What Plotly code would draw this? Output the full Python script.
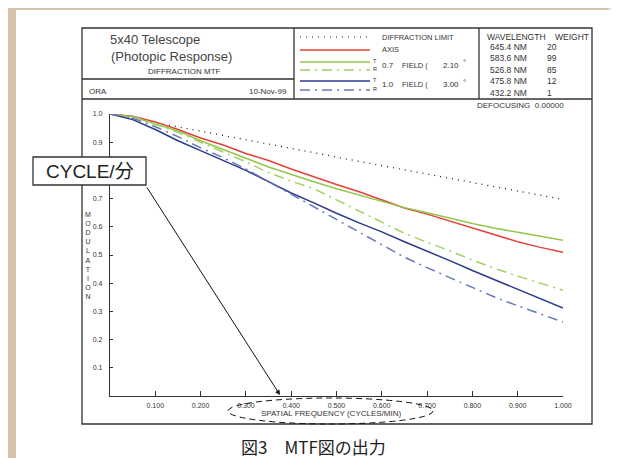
import plotly.graph_objects as go

# ---------------- data ----------------
freq = [0.00, 0.05, 0.10, 0.15, 0.20, 0.25, 0.30, 0.35, 0.40, 0.45, 0.50,
        0.55, 0.60, 0.65, 0.70, 0.75, 0.80, 0.85, 0.90, 0.95, 1.00]

diffraction_limit = [1.000, 0.985, 0.969, 0.954, 0.939, 0.923, 0.908, 0.893, 0.878, 0.863, 0.847,
                     0.832, 0.817, 0.802, 0.787, 0.772, 0.757, 0.742, 0.727, 0.712, 0.697]
axis_mtf = [1.000, 0.992, 0.972, 0.945, 0.915, 0.890, 0.860, 0.835, 0.805, 0.777, 0.750,
            0.724, 0.695, 0.667, 0.645, 0.620, 0.595, 0.570, 0.547, 0.527, 0.510]
field07_t = [1.000, 0.990, 0.965, 0.940, 0.905, 0.875, 0.843, 0.812, 0.785, 0.760, 0.735,
             0.712, 0.690, 0.668, 0.650, 0.630, 0.612, 0.595, 0.580, 0.565, 0.552]
field07_r = [1.000, 0.990, 0.963, 0.935, 0.900, 0.865, 0.830, 0.792, 0.762, 0.735, 0.695,
             0.655, 0.615, 0.577, 0.545, 0.515, 0.482, 0.452, 0.425, 0.400, 0.375]
field10_t = [1.000, 0.980, 0.945, 0.905, 0.870, 0.835, 0.800, 0.760, 0.720, 0.685, 0.648,
             0.614, 0.582, 0.547, 0.514, 0.480, 0.445, 0.412, 0.380, 0.345, 0.312]
field10_r = [1.000, 0.985, 0.955, 0.920, 0.880, 0.845, 0.805, 0.760, 0.715, 0.672, 0.628,
             0.582, 0.535, 0.492, 0.455, 0.420, 0.385, 0.350, 0.320, 0.290, 0.262]

x_tick_vals = [0.1, 0.2, 0.3, 0.4, 0.5, 0.6, 0.7, 0.8, 0.9, 1.0]
x_tick_text = ["0.100", "0.200", "0.300", "0.400", "0.500", "0.600", "0.700", "0.800", "0.900", "1.000"]
y_tick_vals = [0.1, 0.2, 0.3, 0.4, 0.5, 0.6, 0.7, 0.8, 0.9, 1.0]
# 0.8 is hidden behind the callout box in the reference
y_tick_text = ["0.1", "0.2", "0.3", "0.4", "0.5", "0.6", "0.7", "", "0.9", "1.0"]

wavelengths = ["645.4 NM", "583.6 NM", "526.8 NM", "475.8 NM", "432.2 NM"]
weights = ["20", "99", "85", "12", "1"]

# ---------------- layout geometry (screen pixels) ----------------
W, H = 620, 458
OFF = 8  # the page body adds an 8px margin around the figure
PL, PR, PT, PB = 110, 563, 114, 396


def px(x):
    return (x - PL) / (PR - PL)


def py(y):
    return (PB - y) / (PB - PT)


FONT = "Liberation Sans Narrow, Arial Narrow, Liberation Sans, Arial, sans-serif"
FONT_W = "Liberation Sans, Arial, sans-serif"
CJK = "Noto Sans CJK JP, sans-serif"
INK = "#333333"

RED = "#e2413a"
GREEN = "#92c84a"
GREEN_L = "#a3d163"
BLUE = "#2b3a8c"
BLUE_L = "#6678bb"
DASHDOT = "10px,5px,2px,5px"

fig = go.Figure()

series = [
    ("DIFFRACTION LIMIT", diffraction_limit, "#222222", "1px,5px", 1.3),
    ("AXIS", axis_mtf, RED, "solid", 1.5),
    ("0.7 FIELD T", field07_t, GREEN, "solid", 1.5),
    ("0.7 FIELD R", field07_r, GREEN_L, DASHDOT, 1.5),
    ("1.0 FIELD T", field10_t, BLUE, "solid", 1.5),
    ("1.0 FIELD R", field10_r, BLUE_L, DASHDOT, 1.5),
]
for name, vals, col, dash, wd in series:
    fig.add_trace(go.Scatter(x=freq, y=vals, mode="lines", name=name,
                             line=dict(color=col, dash=dash, width=wd),
                             showlegend=False, hoverinfo="skip"))

shapes = []
annotations = []


def rect(x0, y0, x1, y1, **kw):
    shapes.append(dict(type="rect", xref="paper", yref="paper",
                       x0=px(x0), x1=px(x1), y0=py(y0), y1=py(y1), **kw))


def line(x0, y0, x1, y1, color=INK, width=1.3, dash="solid", layer="above"):
    shapes.append(dict(type="line", xref="paper", yref="paper",
                       x0=px(x0), x1=px(x1), y0=py(y0), y1=py(y1), layer=layer,
                       line=dict(color=color, width=width, dash=dash)))


def text(x, y, s, size=8, anchor="left", family=FONT, color=INK, valign="middle"):
    annotations.append(dict(xref="paper", yref="paper", x=px(x), y=py(y), text=s,
                            showarrow=False, xanchor=anchor, yanchor=valign,
                            font=dict(family=family, size=size, color=color)))


# page background: white sheet with tan border strips
rect(16, 10, 640, 480, fillcolor="white", line=dict(width=0), layer="below")
rect(OFF, 2, 16, 480, fillcolor="#d5c3aa", line=dict(width=0), layer="below")
shapes.append(dict(type="path", xref="paper", yref="paper", layer="below",
                   path="M {} {} L {} {} L {} {} L {} {} Z".format(
                       px(OFF), py(0), px(619), py(0), px(608), py(10), px(16), py(10)),
                   fillcolor="#d5c3aa", line=dict(width=0)))

# chart frame and header boxes
rect(82, 28, 592, 424, line=dict(color=INK, width=1.3), layer="above")
line(294, 28, 294, 99)
line(479, 28, 479, 99)
line(82, 79, 294, 79)
line(82, 99, 592, 99)

# header texts
text(108, 40, "5x40 Telescope", size=13, family=FONT_W, color="#444444")
text(109, 56, "(Photopic Response)", size=13, family=FONT_W, color="#444444")
text(184, 72, "DIFFRACTION MTF", size=8, anchor="center")
text(87, 91, "ORA", size=8)
text(289, 91, "10-Nov-99", size=8, anchor="right")

# legend
LX0, LX1 = 300, 370
line(LX0, 37, LX1, 37, color="#222222", width=1.2, dash="1px,5px")
line(LX0, 50, LX1, 50, color=RED, width=1.5)
line(LX0, 62, LX1, 62, color=GREEN, width=1.5)
line(LX0, 70, LX1, 70, color=GREEN_L, width=1.5, dash=DASHDOT)
line(LX0, 81, LX1, 81, color=BLUE, width=1.5)
line(LX0, 90, LX1, 90, color=BLUE_L, width=1.5, dash=DASHDOT)
text(380, 37, "DIFFRACTION LIMIT", size=7.5)
text(380, 50, "AXIS", size=7.5)
for yt, yr, fld, ang in [(61, 69, "0.7", "2.10"), (80, 89, "1.0", "3.00")]:
    text(371, yt, "T", size=5.5)
    text(371, yr, "R", size=5.5)
    text(380, (yt + yr) / 2, fld, size=8)
    text(400, (yt + yr) / 2, "FIELD (", size=7.5)
    text(441, (yt + yr) / 2, ang, size=8)
    text(461, (yt + yr) / 2 - 2, "°", size=8)

# wavelength table
text(485, 37, "WAVELENGTH", size=8.5)
text(553, 37, "WEIGHT", size=8.5)
for i, (wl, wt) in enumerate(zip(wavelengths, weights)):
    yy = 47 + i * 11.4
    text(488, yy, wl, size=8.5)
    text(545, yy, wt, size=8.5)
text(475, 106, "DEFOCUSING  0.00000", size=8)

# axis titles
text(88, 255, "<br>".join(list("MODULATION")), size=7, anchor="center")
text(331, 413, "SPATIAL FREQUENCY (CYCLES/MIN)", size=8, anchor="center")
shapes.append(dict(type="circle", xref="paper", yref="paper", layer="above",
                   x0=px(228), x1=px(433), y0=py(398), y1=py(424),
                   line=dict(color="#111111", width=1, dash="6px,4px")))

# callout box with arrow
rect(33, 157, 146, 185, fillcolor="white", line=dict(color=INK, width=1.3), layer="above")
text(89.5, 171.5, "CYCLE/分", size=19, anchor="center",
     family="Liberation Sans, Arial, Noto Sans CJK JP, sans-serif", color="#222222")
annotations.append(dict(xref="paper", yref="paper", x=px(280), y=py(395),
                        ax=146 - 280, ay=186 - 395, text="", showarrow=True,
                        arrowhead=2, arrowsize=1, arrowwidth=1, arrowcolor="#111111",
                        standoff=0, startstandoff=0))

# caption
text(313, 446, "図3　MTF図の出力", size=17, anchor="center", family=CJK, color="#222222")

fig.update_layout(
    width=W, height=H, autosize=False,
    margin=dict(l=PL - OFF, r=W - (PR - OFF), t=PT - OFF, b=H - (PB - OFF), pad=0),
    paper_bgcolor="#fdf1e1",
    plot_bgcolor="rgba(0,0,0,0)",
    shapes=shapes,
    annotations=annotations,
    showlegend=False,
    xaxis=dict(range=[0, 1], showgrid=False, zeroline=False, showline=True,
               linecolor=INK, linewidth=1.3, ticks="inside", ticklen=5,
               tickcolor=INK, tickwidth=1, tickvals=x_tick_vals, ticktext=x_tick_text,
               tickfont=dict(family=FONT, size=7, color=INK), ticklabelstandoff=2),
    yaxis=dict(range=[0, 1], showgrid=False, zeroline=False, showline=True,
               linecolor=INK, linewidth=1.3, ticks="inside", ticklen=3,
               tickcolor=INK, tickwidth=1, tickvals=y_tick_vals, ticktext=y_tick_text,
               tickfont=dict(family=FONT, size=7, color=INK), ticklabelstandoff=5),
)

fig.write_html("out.html")
